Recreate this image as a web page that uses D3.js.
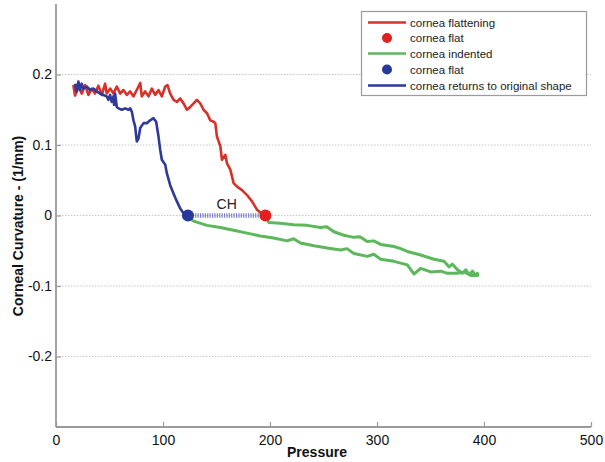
<!DOCTYPE html>
<html>
<head>
<meta charset="utf-8">
<script src="https://cdn.jsdelivr.net/npm/d3@7"></script>
<style>
  html, body { margin: 0; padding: 0; background: #fff; }
  svg { display: block; font-family: "Liberation Sans", Arial, sans-serif; }
</style>
</head>
<body>
<svg id="chart" width="605" height="462"></svg>
<script>
// Cornea flattening (loading), pressure vs curvature
const flattenP = [16.2,17.8,20.9,24.0,27.2,30.3,33.4,36.5,39.6,42.8,45.9,47.4,50.6,53.7,56.8,59.9,63.0,66.2,69.3,72.4,75.5,78.7,80.2,83.3,86.5,89.6,92.7,95.8,98.9,102.1,104.2,106.7,109.9,113.0,116.1,119.2,122.3,125.5,128.6,131.7,134.8,137.9,141.1,144.2,147.3,148.9,150.4,153.6,155.1,158.2,159.8,162.9,166.0,169.2,173.8,178.5,183.2,187.9,192.6,195.7];
const flattenC = [0.185,0.170,0.183,0.173,0.185,0.171,0.180,0.173,0.184,0.171,0.187,0.173,0.180,0.173,0.183,0.173,0.178,0.171,0.176,0.169,0.178,0.188,0.169,0.176,0.169,0.180,0.171,0.178,0.169,0.183,0.185,0.173,0.164,0.161,0.166,0.159,0.150,0.154,0.159,0.164,0.159,0.150,0.145,0.135,0.133,0.131,0.112,0.098,0.079,0.086,0.074,0.065,0.046,0.041,0.036,0.029,0.020,0.008,0.002,0.0];

// Cornea indented: loading branch (from the first flat point outwards)
const indentLoadP = [196.6,198.8,209.7,222.2,234.7,247.2,253.0,259.7,269.0,278.4,284.0,290.9,297.0,303.4,315.9,322.0,328.3,340.8,353.3,362.7,367.4,370.5,375.2,379.8,383.0,386.1,389.2,392.3,393.9];
const indentLoadC = [-0.001,-0.010,-0.011,-0.013,-0.014,-0.017,-0.016,-0.023,-0.028,-0.031,-0.030,-0.037,-0.036,-0.041,-0.044,-0.047,-0.051,-0.056,-0.062,-0.065,-0.073,-0.069,-0.077,-0.082,-0.077,-0.084,-0.079,-0.085,-0.082];
// Cornea indented: unloading branch, listed by ascending pressure (second flat point first)
const indentUnloadP = [122.3,128.6,141.1,153.6,166.0,178.5,191.0,203.5,216.0,222.0,228.5,241.0,253.4,265.9,272.0,278.4,290.9,297.0,303.4,315.9,328.3,334.6,340.8,350.2,359.6,365.8,375.2,381.4,387.7,393.9];
const indentUnloadC = [0.0,-0.008,-0.014,-0.017,-0.021,-0.025,-0.029,-0.032,-0.036,-0.033,-0.039,-0.043,-0.046,-0.049,-0.047,-0.054,-0.058,-0.055,-0.062,-0.065,-0.070,-0.083,-0.075,-0.080,-0.079,-0.082,-0.082,-0.080,-0.085,-0.085];

// Cornea returns to original shape (unloading, ascending pressure)
const returnP = [17.8,19.4,20.9,22.5,24.0,25.6,28.7,31.8,35.0,38.1,41.2,44.3,47.4,49.0,50.6,52.1,53.7,54.3,55.2,56.8,58.4,61.5,64.6,67.7,69.3,70.9,72.4,74.0,75.5,77.1,78.7,81.8,84.9,88.0,91.1,93.6,95.8,97.4,98.9,102.1,103.6,106.7,109.9,113.0,116.1,119.2,123.3];
const returnC = [0.187,0.176,0.190,0.178,0.187,0.180,0.183,0.178,0.180,0.176,0.173,0.171,0.169,0.164,0.171,0.161,0.169,0.157,0.173,0.154,0.152,0.150,0.152,0.150,0.152,0.147,0.135,0.126,0.105,0.109,0.124,0.131,0.131,0.135,0.138,0.133,0.112,0.093,0.079,0.072,0.060,0.043,0.031,0.020,0.010,0.003,0.0];

// Flat points and hysteresis
const flatFirst = [195.7, 0.0];
const flatSecond = [123.3, 0.0];
const hysteresisLabel = "CH";

const xTicks = [0, 100, 200, 300, 400, 500];
const yTicks = [-0.2, -0.1, 0, 0.1, 0.2];
const xTitle = "Pressure";
const yTitle = "Corneal Curvature - (1/mm)";
const legendLabels = ["cornea flattening", "cornea flat", "cornea indented", "cornea flat", "cornea returns to original shape"];

const RED = "#d8312a", GREEN = "#5cb85a", BLUE = "#2d3a99";

const svg = d3.select("#chart");
const plotL = 56, plotR = 591, plotT = 4, plotB = 427;

const x = d3.scaleLinear().domain([0, 500]).range([plotL, plotR]);
const y = d3.scaleLinear().domain([-0.3, 0.3]).range([plotB, plotT]);

// dotted horizontal grid
svg.append("g").selectAll("line").data(yTicks).join("line")
  .attr("x1", plotL).attr("x2", plotR)
  .attr("y1", d => y(d)).attr("y2", d => y(d))
  .attr("stroke", "#c8c8c8").attr("stroke-width", 1.2)
  .attr("stroke-dasharray", "1.5,1.5");

// axes (plain hyphen for negative labels)
const yFmt = d => d === 0 ? "0" : d3.format(".1f")(d).replace("\u2212", "-");
const xAxis = d3.axisBottom(x).tickValues(xTicks).tickSize(-5).tickPadding(8).tickFormat(d3.format("d"));
const yAxis = d3.axisLeft(y).tickValues(yTicks).tickSize(-5).tickPadding(4).tickFormat(yFmt);

const gx = svg.append("g").attr("transform", `translate(0,${plotB})`).call(xAxis);
const gy = svg.append("g").attr("transform", `translate(${plotL},0)`).call(yAxis);
[gx, gy].forEach(g => {
  g.select(".domain").attr("stroke", "#9a9a9a").attr("stroke-width", 1.8);
  g.selectAll(".tick line").attr("stroke", "#9a9a9a").attr("stroke-width", 1.2);
  g.selectAll(".tick text").attr("fill", "#111").style("font-size", "14px")
    .style("font-family", "'Liberation Sans', Arial, sans-serif");
});
gx.select(".domain").attr("d", `M${plotL},0H${plotR}`);
gy.select(".domain").attr("d", `M0,${plotB}V${plotT}`);

// axis titles
svg.append("text").attr("x", 317).attr("y", 457).attr("text-anchor", "middle")
  .style("font-size", "14px").style("font-weight", "bold").attr("fill", "#111").text(xTitle);
svg.append("text").attr("transform", "translate(23,226) rotate(-90)").attr("text-anchor", "middle")
  .style("font-size", "14px").style("font-weight", "bold").attr("fill", "#111").text(yTitle);

const line = d3.line().x(d => x(d[0])).y(d => y(d[1]));
const zip = (a, b) => a.map((v, i) => [v, b[i]]);

// hysteresis band between the two flat points
svg.append("line")
  .attr("x1", x(flatSecond[0])).attr("x2", x(flatFirst[0]))
  .attr("y1", y(0)).attr("y2", y(0))
  .attr("stroke", "#7b7fc4").attr("stroke-width", 4.5).attr("stroke-dasharray", "1.2,1.2");
svg.append("text").attr("x", x((flatFirst[0] + flatSecond[0]) / 2)).attr("y", y(0) - 7)
  .attr("text-anchor", "middle").style("font-size", "14px").attr("fill", "#222").text(hysteresisLabel);

// indentation loop: out along the loading branch, back along the unloading branch
const indentPts = zip(indentLoadP, indentLoadC).concat(zip(indentUnloadP, indentUnloadC).reverse());
svg.append("path").datum(indentPts).attr("d", line)
  .attr("fill", "none").attr("stroke", GREEN).attr("stroke-width", 3).attr("stroke-linejoin", "round");

// flattening
svg.append("path").datum(zip(flattenP, flattenC)).attr("d", line)
  .attr("fill", "none").attr("stroke", RED).attr("stroke-width", 2.6).attr("stroke-linejoin", "round");

// return to original shape
svg.append("path").datum(zip(returnP, returnC)).attr("d", line)
  .attr("fill", "none").attr("stroke", BLUE).attr("stroke-width", 2.6).attr("stroke-linejoin", "round");

// flat points
svg.append("circle").attr("cx", x(flatFirst[0])).attr("cy", y(flatFirst[1])).attr("r", 6).attr("fill", "#e0211f");
svg.append("circle").attr("cx", x(flatSecond[0])).attr("cy", y(flatSecond[1])).attr("r", 6).attr("fill", "#26399c");

// legend
const lg = svg.append("g");
lg.append("rect").attr("x", 361.5).attr("y", 11.5).attr("width", 225).attr("height", 84)
  .attr("fill", "#fff").attr("stroke", "#9a9a9a").attr("stroke-width", 1.2);
const legendKinds = [["line", RED], ["dot", "#e0211f"], ["line", GREEN], ["dot", "#26399c"], ["line", BLUE]];
const legendY = [22.5, 38, 53.5, 69.5, 85.5];
legendKinds.forEach(([kind, col], i) => {
  const cy = legendY[i];
  if (kind === "line") {
    lg.append("line").attr("x1", 368).attr("x2", 406).attr("y1", cy).attr("y2", cy)
      .attr("stroke", col).attr("stroke-width", 2.6);
  } else {
    lg.append("circle").attr("cx", 387).attr("cy", cy).attr("r", 5).attr("fill", col);
  }
  lg.append("text").attr("x", 410).attr("y", cy + 4).style("font-size", "11.5px")
    .attr("fill", "#222").text(legendLabels[i]);
});
</script>
</body>
</html>
